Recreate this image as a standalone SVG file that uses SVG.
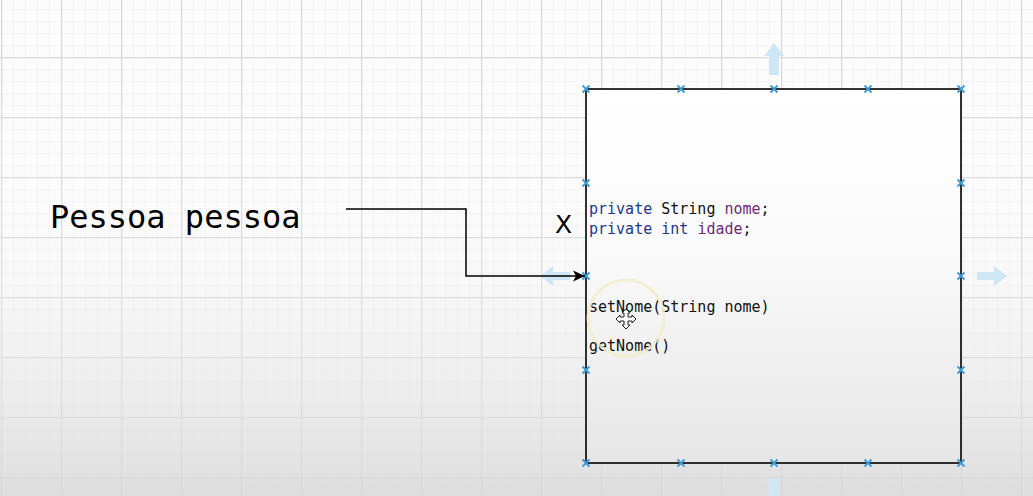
<svg xmlns="http://www.w3.org/2000/svg" width="1033" height="496" viewBox="0 0 1033 496">
<defs>
<pattern id="minor" x="1" y="9" width="12" height="12" patternUnits="userSpaceOnUse">
<path d="M0 0H12M0 0V12" stroke="#f0f0f0" stroke-width="1" fill="none"/>
</pattern>
<pattern id="major" x="1" y="57" width="60" height="60" patternUnits="userSpaceOnUse">
<path d="M0 0.5H60M0.5 0V60" stroke="#d6d6d6" stroke-width="1.5" fill="none"/>
</pattern>
<linearGradient id="shade" x1="0" y1="0" x2="0" y2="1">
<stop offset="0" stop-color="#ffffff" stop-opacity="0"/>
<stop offset="0.45" stop-color="#f4f4f4" stop-opacity="0.2"/>
<stop offset="1" stop-color="#d8d8d8" stop-opacity="0.85"/>
</linearGradient>
<linearGradient id="boxfill" x1="0" y1="0" x2="0" y2="1">
<stop offset="0" stop-color="#ffffff"/>
<stop offset="0.4" stop-color="#fbfbfb"/>
<stop offset="1" stop-color="#e6e6e6"/>
</linearGradient>
<marker id="arr" viewBox="0 0 12 12" refX="12" refY="6" markerWidth="12" markerHeight="12" markerUnits="userSpaceOnUse" orient="auto">
<path d="M0 0.5L12 6L0 11.5L3 6Z" fill="#000"/>
</marker>
<g id="cp"><path d="M-3.5 -3.5L3.5 3.5M-3.5 3.5L3.5 -3.5" stroke="#3a9bd5" stroke-width="1.8"/></g>
<style>
.code{font-family:"DejaVu Sans Mono","Liberation Mono",monospace;font-size:15px;fill:#111}
.kw{fill:#1a3a8a}
.id{fill:#6f2a78}
.hint{fill:#cfe6f5}
</style>
</defs>
<rect width="1033" height="496" fill="#fcfcfc"/>
<rect width="1033" height="496" fill="url(#minor)"/>
<rect width="1033" height="496" fill="url(#major)"/>
<rect width="1033" height="496" fill="url(#shade)"/>
<g id="hints">
<path class="hint" d="M769 75V56H764L774 43L784 56H779V75Z"/>
<path class="hint" d="M977 272H994V266L1007 276L994 286V280H977Z"/>
<path class="hint" d="M570 272H553V266L540 276L553 286V280H570Z"/>
<path class="hint" d="M769 478V496H779V478Z"/>
</g>
<g id="node-class">
<rect x="586" y="89" width="375" height="374" fill="url(#boxfill)" stroke="#000" stroke-width="1.6"/>
<text class="code" x="589" y="214"><tspan class="kw">private</tspan> String <tspan class="id">nome</tspan>;</text>
<text class="code" x="589" y="234"><tspan class="kw">private</tspan> <tspan class="kw">int</tspan> <tspan class="id">idade</tspan>;</text>
<text class="code" x="589" y="312">setNome(String nome)</text>
<text class="code" x="589" y="351">getNome()</text>
<g id="points">
<use href="#cp" x="586" y="89"/><use href="#cp" x="681" y="89"/><use href="#cp" x="774" y="89"/><use href="#cp" x="868" y="89"/><use href="#cp" x="961" y="89"/>
<use href="#cp" x="586" y="463"/><use href="#cp" x="681" y="463"/><use href="#cp" x="774" y="463"/><use href="#cp" x="868" y="463"/><use href="#cp" x="961" y="463"/>
<use href="#cp" x="586" y="183"/><use href="#cp" x="586" y="276"/><use href="#cp" x="586" y="370"/>
<use href="#cp" x="961" y="183"/><use href="#cp" x="961" y="276"/><use href="#cp" x="961" y="370"/>
</g>
</g>
<g id="node-var">
<text x="50" y="228" font-family="DejaVu Sans Mono, Liberation Mono, monospace" font-size="32" fill="#000">Pessoa pessoa</text>
</g>
<g id="node-x">
<text x="555" y="233" font-family="DejaVu Sans, Liberation Sans, sans-serif" font-size="25" fill="#000">X</text>
</g>
<g id="connectors">
<path d="M346 209H466V276H585" fill="none" stroke="#000" stroke-width="1.5" marker-end="url(#arr)"/>
</g>
<g id="cursor">
<circle cx="626" cy="318" r="38" fill="none" stroke="#f3eecb" stroke-width="3" opacity="0.8"/>
<path d="M626 309L630 313H628V317H632V315L636 319L632 323V321H628V325H630L626 329L622 325H624V321H620V323L616 319L620 315V317H624V313H622Z" fill="#fff" stroke="#222" stroke-width="1"/>
</g>
</svg>
